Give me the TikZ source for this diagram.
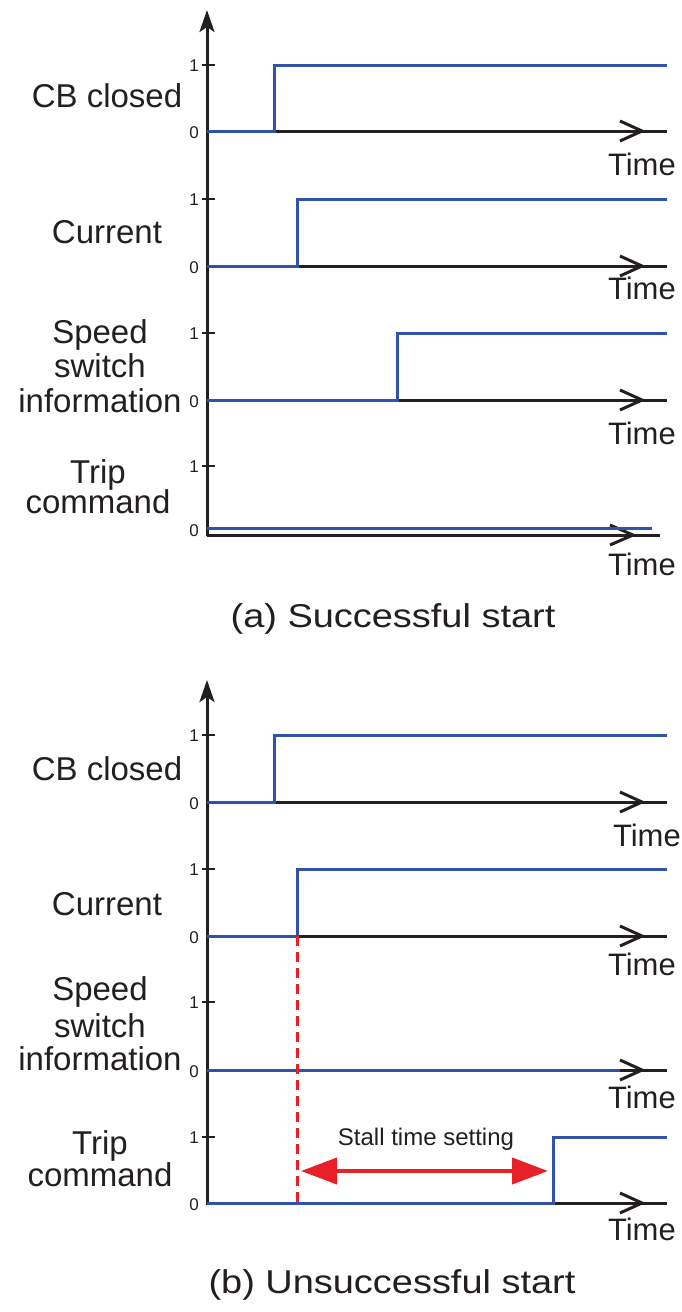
\documentclass[tikz,border=0pt]{standalone}
\usepackage{fontspec}
\usepackage{graphicx}
\setmainfont{Liberation Sans}
\usetikzlibrary{arrows.meta}

\definecolor{sigblue}{RGB}{48,82,168}
\definecolor{axisblack}{RGB}{35,31,32}
\definecolor{stallred}{RGB}{232,32,40}

\tikzset{
  axis/.style={draw=axisblack, line width=3pt},
  sig/.style={draw=sigblue, line width=3pt, line join=miter},
  tickmark/.style={draw=axisblack, line width=2.5pt},
  rowlabel/.style={anchor=base, inner sep=0pt, text=axisblack, font=\fontsize{33}{37}\selectfont},
  timelabel/.style={anchor=base east, inner sep=0pt, text=axisblack, font=\fontsize{31}{35}\selectfont},
  levellabel/.style={anchor=east, inner sep=0pt, text=axisblack, font=\fontsize{17}{19}\selectfont},
  caption/.style={anchor=base, inner sep=0pt, text=axisblack, font=\fontsize{33}{37}\selectfont},
  stalllabel/.style={anchor=base, inner sep=0pt, text=axisblack, font=\fontsize{24}{28}\selectfont},
  yarrow/.style={-{Stealth[length=22pt,width=15pt,inset=5pt]}},
  stallarrow/.style={draw=stallred, line width=4pt,
    {Triangle[length=36pt,width=26pt]}-{Triangle[length=36pt,width=26pt]}},
  stallmark/.style={draw=stallred, line width=3pt, dash pattern=on 10pt off 6pt},
}

% one row: #1 = level-0 y, #2 = level-1 y, #3 = name prefix
\newcommand{\timeaxis}[3]{%
  \coordinate (#3-o) at (207,#1);
  \coordinate (#3-e) at (667,#1);
  \draw[axis] (#3-o) -- (#3-e);
  \draw[axis] (620,#1-10) -- (642,#1) -- (620,#1+10);
  \draw[tickmark] (202,#2) -- (215,#2);
  \node[levellabel] (#3-one) at (199,#2+1) {1};
  \node[levellabel] (#3-zero) at (199,#1+2) {0};
}

\begin{document}
\begin{tikzpicture}[x=1pt,y=-1pt]
\useasboundingbox (0,0) rectangle (681,1312);

% ---------------- (a) Successful start ----------------
\draw[axis, yarrow] (207,536) -- (207,10);

\timeaxis{131}{65}{a1}
\draw[sig] (207,131) -- (274,131) -- (274,65) -- (667,65);
\node[rowlabel] (a1-lab) at (107,107) {CB closed};
\node[timelabel] (a1-t) at (676,175) {Time};

\timeaxis{266}{199}{a2}
\draw[sig] (207,266) -- (297,266) -- (297,199) -- (667,199);
\node[rowlabel] (a2-lab) at (107,243) {Current};
\node[timelabel] (a2-t) at (676,299) {Time};

\timeaxis{400}{333}{a3}
\draw[sig] (207,400) -- (397,400) -- (397,333) -- (667,333);
\node[rowlabel] (a3-lab1) at (100,343) {Speed};
\node[rowlabel] (a3-lab2) at (100,377) {switch};
\node[rowlabel] (a3-lab3) at (100,412) {information};
\node[timelabel] (a3-t) at (676,444) {Time};

% trip row: stays at zero
\draw[axis] (207,535) -- (660,535);
\draw[axis] (610,525) -- (633,535) -- (610,545);
\draw[tickmark] (202,466) -- (215,466);
\node[levellabel] (a4-one) at (199,467) {1};
\node[levellabel] (a4-zero) at (199,531) {0};
\draw[sig] (207,528) -- (652,528);
\node[rowlabel] (a4-lab1) at (98,483) {Trip};
\node[rowlabel] (a4-lab2) at (98,513) {command};
\node[timelabel] (a4-t) at (676,575) {Time};

\node[caption] (capa) at (393,627) {\scalebox{1.15}[1]{(a) Successful start}};

% ---------------- (b) Unsuccessful start ----------------
\draw[axis, yarrow] (207,1205) -- (207,680);

\timeaxis{802}{735}{b1}
\draw[sig] (207,802) -- (274,802) -- (274,735) -- (667,735);
\node[rowlabel] (b1-lab) at (107,780) {CB closed};
\node[timelabel] (b1-t) at (681,846) {Time};

\timeaxis{936}{869}{b2}
\draw[sig] (207,936) -- (297,936) -- (297,869) -- (667,869);
\node[rowlabel] (b2-lab) at (107,915) {Current};
\node[timelabel] (b2-t) at (676,975) {Time};

\timeaxis{1070}{1002}{b3}
\draw[sig] (207,1070) -- (620,1070);
\node[rowlabel] (b3-lab1) at (100,1000) {Speed};
\node[rowlabel] (b3-lab2) at (100,1037) {switch};
\node[rowlabel] (b3-lab3) at (100,1070) {information};
\node[timelabel] (b3-t) at (676,1108) {Time};

\timeaxis{1203}{1137}{b4}
\draw[sig] (207,1203) -- (553,1203) -- (553,1137) -- (667,1137);
\node[rowlabel] (b4-lab1) at (100,1154) {Trip};
\node[rowlabel] (b4-lab2) at (100,1186) {command};
\node[timelabel] (b4-t) at (676,1240) {Time};

% stall time: from current onset to trip
\coordinate (cur-on) at (297,936);
\coordinate (cur-foot) at (297,1203);
\draw[stallmark] (cur-on) -- (cur-foot);
\coordinate (stall-l) at (301,1171);
\coordinate (stall-r) at (548,1171);
\draw[stallarrow] (stall-l) -- (stall-r);
\node[stalllabel] (stall-lab) at (426,1145) {Stall time setting};

\node[caption] (capb) at (392,1293) {\scalebox{1.15}[1]{(b) Unsuccessful start}};
\end{tikzpicture}
\end{document}
